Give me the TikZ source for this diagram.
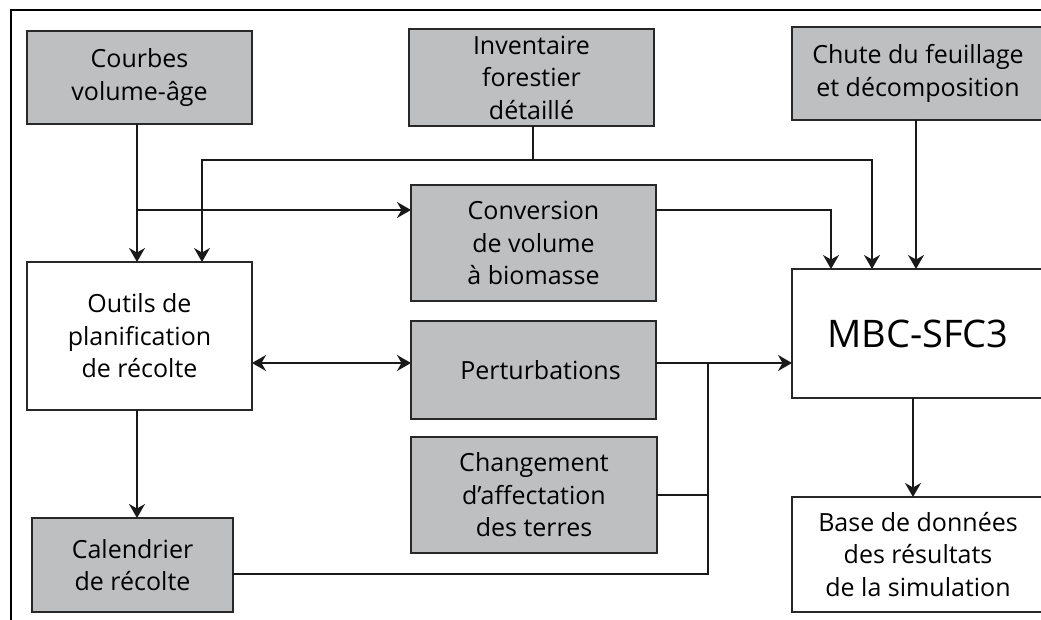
\documentclass[tikz,border=0pt]{standalone}
\usepackage{fontspec}
\setmainfont{Open Sans}
\usetikzlibrary{arrows.meta}
\definecolor{boxgray}{RGB}{190,191,193}
\definecolor{edgegray}{RGB}{40,40,40}
\begin{document}
\begin{tikzpicture}[x=1pt,y=-1pt,
  boxbase/.style={draw=edgegray, line width=1.7pt, inner sep=0pt, outer sep=0pt, align=center,
     font=\fontsize{25}{32.5}\selectfont, text=black},
  gbox/.style={boxbase, fill=boxgray},
  wbox/.style={boxbase, fill=white},
  conn/.style={line width=1.5pt, black!90},
  tip/.style={},
  arr/.style={conn, -{Stealth[length=14pt,width=16pt,inset=4.5pt]}},
  arrtwo/.style={conn, {Stealth[length=14pt,width=16pt,inset=4.5pt]}-{Stealth[length=14pt,width=16pt,inset=4.5pt]}}]
\useasboundingbox (0,0) rectangle (1041,620);
% frame
\draw[line width=1.5pt] (11,622) -- (11,10) -- (1045,10);
% nodes
\node[gbox, minimum width=225, minimum height=93] (courbes) at (139.5,77.5) {Courbes\\volume-âge};
\node[gbox, minimum width=245, minimum height=97] (inv) at (531.5,77.5) {Inventaire\\forestier\\détaillé};
\node[gbox, minimum width=252, minimum height=93] (chute) at (918,73.5) {Chute du feuillage\\et décomposition};
\node[gbox, minimum width=245, minimum height=116] (conv) at (533.5,243) {Conversion\\de volume\\à biomasse};
\node[wbox, minimum width=225, minimum height=148] (outils) at (139.5,336) {Outils de\\planification\\de récolte};
\node[gbox, minimum width=245, minimum height=98] (pert) at (533.5,370) {\hspace*{14pt}Perturbations};
\node[gbox, minimum width=246, minimum height=116] (chg) at (534,495) {Changement\\d’affectation\\des terres};
\node[gbox, minimum width=201, minimum height=94] (cal) at (132.5,565) {Calendrier\\de récolte};
\node[wbox, minimum width=252, minimum height=129, font=\fontsize{38}{44}\selectfont] (mbc) at (918,333.5) {MBC-SFC3};
\node[wbox, minimum width=252, minimum height=115] (base) at (918,554.5) {Base de données\\des résultats\\de la simulation};
% helper coordinates
\coordinate (j1) at (137,210);
\coordinate (j2) at (533,160);
\coordinate (h) at (0,363);
\coordinate (v) at (708,363);
\coordinate (lo) at (708,574);
% connectors
\draw[arr] (courbes.south -| j1) -- (outils.north -| j1);
\draw[arr] (j1) -- (j1 -| conv.west);
\draw[arr] (conv.east |- j1) -| ([xshift=39]mbc.north west);
\draw[conn] (inv.south -| j2) -- (j2);
\draw[arr] (j2) -| ([xshift=175]outils.north west);
\draw[arr] (j2) -| ([xshift=80]mbc.north west);
\draw[arr] ([xshift=-2]chute.south) -- ([xshift=-2]chute.south |- mbc.north);
\draw[arrtwo] (outils.east |- h) -- (pert.west |- h);
\draw[arr] (pert.east |- h) -- (mbc.west |- h);
\draw[conn] (cal.east |- lo) -- (lo) -- (v);
\draw[conn] (chg.east) -- (chg.east -| v);
\draw[arr] (outils.south -| j1) -- (cal.north -| j1);
\draw[arr] ([xshift=-5]mbc.south) -- ([xshift=-5]mbc.south |- base.north);
\end{tikzpicture}
\end{document}
